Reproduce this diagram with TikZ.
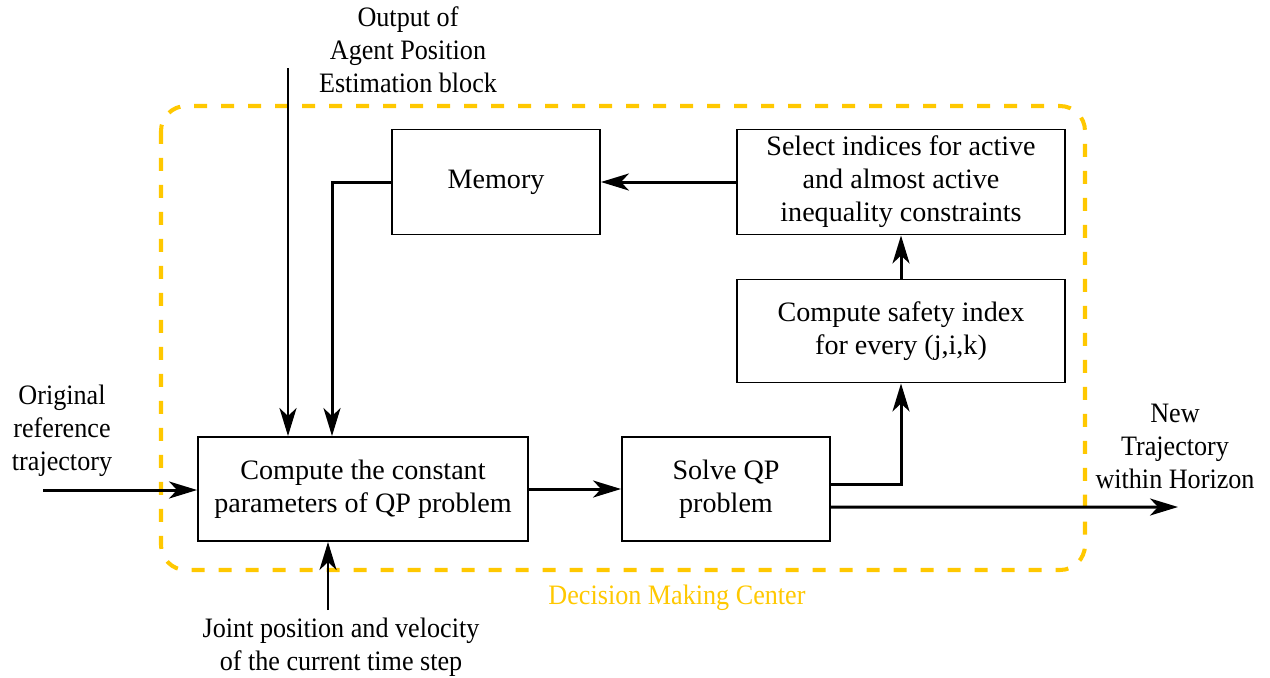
\documentclass[tikz,border=0pt]{standalone}
\usepackage{fontspec}
\setmainfont{LiberationSerif}[Extension=.ttf,UprightFont=*-Regular,BoldFont=*-Bold]
\newfontfamily\stretto{LiberationSerif}[Extension=.ttf,UprightFont=*-Regular,FakeStretch=0.93]
\usetikzlibrary{arrows.meta}
\definecolor{dmcgiallo}{RGB}{255,200,0}
\tikzset{
  testo/.style={align=center,font=\rmfamily\fontsize{16}{18.8}\selectfont},
  etichetta/.style={align=center,font=\stretto\fontsize{16}{18.8}\selectfont},
  blocco/.style={testo,draw,line width=1.1pt,inner sep=2pt},
  freccia/.style={-{Stealth[length=0.56cm,width=0.34cm,inset=0.16cm]},line width=1.7pt},
}
\begin{document}
\begin{tikzpicture}[x=0.02cm,y=-0.02cm]
        \useasboundingbox (0,0) rectangle (1270,677);
        % Centro decisionale
        \draw[dmcgiallo,line width=2.3pt,dash pattern=on 0.26cm off 0.28cm,rounded corners=0.5cm] (161,106) rectangle (1085,570);
        \node[etichetta,text=dmcgiallo] (centro) at (677,598) {Decision Making Center};
        % Blocchi
        \node[blocco,minimum width=4.16cm,minimum height=2.1cm] (memoria) at (496,182) {Memory};
        \node[blocco,minimum width=6.56cm,minimum height=2.1cm] (selezione) at (901,182) {Select indices for active\\and almost active\\inequality constraints};
        \node[blocco,minimum width=6.56cm,minimum height=2.06cm] (sicurezza) at (901,331) {Compute safety index\\for every (j,i,k)};
        \node[blocco,minimum width=6.6cm,minimum height=2.08cm] (calcolo) at (363,489) {Compute the constant\\parameters of QP problem};
        \node[blocco,minimum width=4.16cm,minimum height=2.08cm] (risolvi) at (726,489) {Solve QP\\problem};
        % Ingressi e uscite
        \node[etichetta] (agentetxt) at (408,50) {Output of\\Agent Position\\Estimation block};
        \node[etichetta] (riftxt) at (62,431) {Original\\reference\\trajectory};
        \node[etichetta] (nuovatxt) at (1175,446) {New\\Trajectory\\within Horizon};
        \node[etichetta] (giuntitxt) at (341,647) {Joint position and velocity\\of the current time step};
        \coordinate (agente) at (288,68);
        \coordinate (riferimento) at (43,490);
        \coordinate (nuova) at (1178,507);
        \coordinate (giunti) at (328,610);
        % Frecce
        \draw[freccia] (agente) -- (agente |- calcolo.north);
        \draw[freccia] (riferimento) -- (riferimento -| calcolo.west);
        \draw[freccia] (giunti) -- (giunti |- calcolo.south);
        \draw[freccia] (calcolo.east) -- (risolvi.west);
        \draw[freccia] ([yshift=0.1cm]risolvi.east) -| (sicurezza.south);
        \draw[freccia] ([yshift=-0.36cm]risolvi.east) -- (nuova);
        \draw[freccia] (sicurezza.north) -- (selezione.south);
        \draw[freccia] (selezione.west) -- (memoria.east);
        \draw[freccia] (memoria.west) -| ([xshift=-0.62cm]calcolo.north);
    \end{tikzpicture}
\end{document}
